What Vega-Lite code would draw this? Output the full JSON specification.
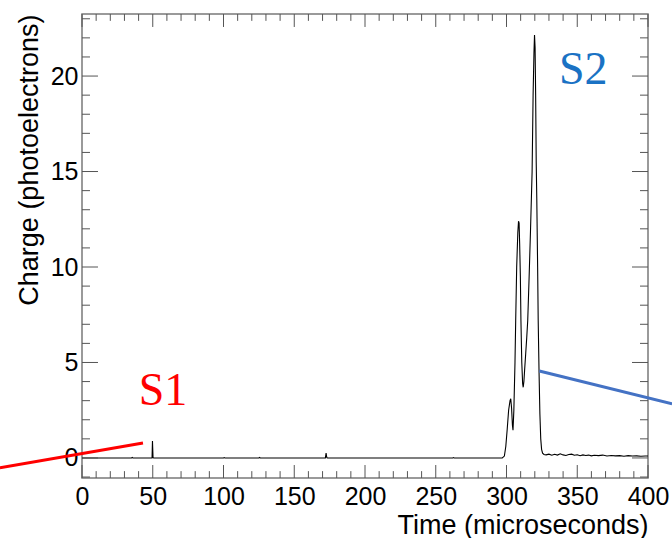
{
  "$schema": "https://vega.github.io/schema/vega-lite/v6.json",
  "width": 566,
  "height": 464,
  "autosize": {"type": "none"},
  "padding": {"left": 82, "top": 14, "right": 24, "bottom": 60},
  "background": "white",
  "config": {
    "view": {"stroke": "#7a7a7a", "strokeWidth": 1.5}
  },
  "datasets": {
    "wave": [
      {"t": 0, "q": 0}, {"t": 20, "q": 0}, {"t": 35, "q": 0}, {"t": 35.5, "q": 0.03}, {"t": 36, "q": 0},
      {"t": 49.5, "q": 0}, {"t": 49.8, "q": 0.89}, {"t": 50.2, "q": 0.02}, {"t": 50.6, "q": 0},
      {"t": 100, "q": 0}, {"t": 100.5, "q": 0.02}, {"t": 101, "q": 0},
      {"t": 125, "q": 0}, {"t": 125.5, "q": 0.03}, {"t": 126, "q": 0},
      {"t": 172, "q": 0}, {"t": 172.5, "q": 0.26}, {"t": 173, "q": 0.02}, {"t": 173.5, "q": 0},
      {"t": 262, "q": 0}, {"t": 262.5, "q": 0.02}, {"t": 263, "q": 0},
      {"t": 297, "q": 0}, {"t": 298.5, "q": 0.1}, {"t": 299.5, "q": 0.6}, {"t": 300.5, "q": 1.5},
      {"t": 301.5, "q": 2.5}, {"t": 302.5, "q": 3.0}, {"t": 303, "q": 3.1}, {"t": 303.6, "q": 2.6},
      {"t": 304.2, "q": 1.7}, {"t": 304.6, "q": 1.45}, {"t": 305.2, "q": 2.5}, {"t": 306, "q": 5.0},
      {"t": 306.5, "q": 7.2}, {"t": 307.2, "q": 10}, {"t": 308, "q": 11.8}, {"t": 308.5, "q": 12.4},
      {"t": 308.9, "q": 12.3}, {"t": 309.3, "q": 11.2}, {"t": 309.8, "q": 9.5}, {"t": 310.2, "q": 7.2},
      {"t": 310.8, "q": 5.0}, {"t": 311.4, "q": 3.9}, {"t": 311.8, "q": 3.7}, {"t": 312.3, "q": 4.0},
      {"t": 312.8, "q": 4.6}, {"t": 313.6, "q": 5.5}, {"t": 314.3, "q": 6.3}, {"t": 315, "q": 7.2},
      {"t": 316, "q": 9.5}, {"t": 317, "q": 12}, {"t": 318.1, "q": 15}, {"t": 318.8, "q": 19},
      {"t": 319.4, "q": 21.2}, {"t": 319.8, "q": 22.15}, {"t": 320.2, "q": 21.5}, {"t": 320.6, "q": 19},
      {"t": 321, "q": 15.5}, {"t": 321.4, "q": 13.6}, {"t": 322, "q": 10}, {"t": 322.4, "q": 7.2},
      {"t": 323, "q": 4.5}, {"t": 323.6, "q": 2.3}, {"t": 324.2, "q": 1.0}, {"t": 324.8, "q": 0.45},
      {"t": 325.5, "q": 0.25}, {"t": 326.5, "q": 0.18}, {"t": 328, "q": 0.16}, {"t": 330, "q": 0.2},
      {"t": 332, "q": 0.14}, {"t": 334, "q": 0.19}, {"t": 336, "q": 0.15}, {"t": 338, "q": 0.22},
      {"t": 340, "q": 0.16}, {"t": 342, "q": 0.13}, {"t": 344, "q": 0.18}, {"t": 346, "q": 0.2},
      {"t": 348, "q": 0.14}, {"t": 350, "q": 0.17}, {"t": 352, "q": 0.12}, {"t": 354, "q": 0.16},
      {"t": 356, "q": 0.13}, {"t": 358, "q": 0.15}, {"t": 360, "q": 0.11}, {"t": 362, "q": 0.14},
      {"t": 365, "q": 0.12}, {"t": 368, "q": 0.15}, {"t": 371, "q": 0.1}, {"t": 374, "q": 0.13},
      {"t": 377, "q": 0.11}, {"t": 380, "q": 0.12}, {"t": 383, "q": 0.09}, {"t": 386, "q": 0.12},
      {"t": 389, "q": 0.1}, {"t": 392, "q": 0.11}, {"t": 395, "q": 0.09}, {"t": 398, "q": 0.1},
      {"t": 400, "q": 0.1}
    ],
    "red": [{"t": -58, "q": -0.52}, {"t": 43.1, "q": 0.785}],
    "blue": [{"t": 323.2, "q": 4.55}, {"t": 417, "q": 2.83}],
    "s1": [{"t": 57.3, "q": 2.77, "label": "S1"}],
    "s2": [{"t": 354.2, "q": 19.6, "label": "S2"}],
    "xmaj": [{"t": 0}, {"t": 50}, {"t": 100}, {"t": 150}, {"t": 200}, {"t": 250}, {"t": 300}, {"t": 350}, {"t": 400}],
    "xmin": [{"t": 10}, {"t": 20}, {"t": 30}, {"t": 40}, {"t": 60}, {"t": 70}, {"t": 80}, {"t": 90},
      {"t": 110}, {"t": 120}, {"t": 130}, {"t": 140}, {"t": 160}, {"t": 170}, {"t": 180}, {"t": 190},
      {"t": 210}, {"t": 220}, {"t": 230}, {"t": 240}, {"t": 260}, {"t": 270}, {"t": 280}, {"t": 290},
      {"t": 310}, {"t": 320}, {"t": 330}, {"t": 340}, {"t": 360}, {"t": 370}, {"t": 380}, {"t": 390}],
    "ymaj": [{"q": 0}, {"q": 5}, {"q": 10}, {"q": 15}, {"q": 20}],
    "ymin": [{"q": -1}, {"q": 1}, {"q": 2}, {"q": 3}, {"q": 4}, {"q": 6}, {"q": 7}, {"q": 8}, {"q": 9},
      {"q": 11}, {"q": 12}, {"q": 13}, {"q": 14}, {"q": 16}, {"q": 17}, {"q": 18}, {"q": 19},
      {"q": 21}, {"q": 22}, {"q": 23}]
  },
  "resolve": {"axis": {"x": "independent", "y": "independent"}},
  "layer": [
    {
      "data": {"name": "wave"},
      "mark": {"type": "line", "color": "black", "strokeWidth": 1.1},
      "encoding": {
        "x": {"field": "t", "type": "quantitative",
          "scale": {"domain": [0, 400], "nice": false, "zero": false},
          "axis": {"orient": "bottom", "values": [0, 50, 100, 150, 200, 250, 300, 350, 400],
            "grid": false, "domain": false, "ticks": false,
            "labelFont": "Liberation Sans", "labelFontSize": 25, "labelColor": "black",
            "labelOverlap": false, "labelFlush": false, "labelAngle": 0, "labelPadding": 6,
            "title": "Time (microseconds)", "titleFont": "Liberation Sans", "titleFontSize": 27,
            "titleFontWeight": "normal", "titleColor": "black",
            "titleAnchor": "end", "titlePadding": 3}},
        "y": {"field": "q", "type": "quantitative",
          "scale": {"domain": [-1.05, 23.25], "nice": false, "zero": false},
          "axis": {"orient": "left", "values": [0, 5, 10, 15, 20],
            "grid": false, "domain": false, "ticks": false,
            "labelFont": "Liberation Sans", "labelFontSize": 25, "labelColor": "black",
            "labelOverlap": false, "labelFlush": false, "labelPadding": 4,
            "title": "Charge (photoelectrons)", "titleFont": "Liberation Sans", "titleFontSize": 27,
            "titleFontWeight": "normal", "titleColor": "black",
            "titleAnchor": "end", "titlePadding": 7}}
      }
    },
    {
      "data": {"name": "xmaj"},
      "mark": {"type": "rule", "color": "#555555", "strokeWidth": 1},
      "encoding": {
        "x": {"field": "t", "type": "quantitative", "axis": null},
        "y": {"datum": -1.05, "type": "quantitative", "axis": null},
        "y2": {"datum": -0.37}
      }
    },
    {
      "data": {"name": "xmaj"},
      "mark": {"type": "rule", "color": "#555555", "strokeWidth": 1},
      "encoding": {
        "x": {"field": "t", "type": "quantitative", "axis": null},
        "y": {"datum": 23.25, "type": "quantitative", "axis": null},
        "y2": {"datum": 22.57}
      }
    },
    {
      "data": {"name": "xmin"},
      "mark": {"type": "rule", "color": "#555555", "strokeWidth": 1},
      "encoding": {
        "x": {"field": "t", "type": "quantitative", "axis": null},
        "y": {"datum": -1.05, "type": "quantitative", "axis": null},
        "y2": {"datum": -0.69}
      }
    },
    {
      "data": {"name": "xmin"},
      "mark": {"type": "rule", "color": "#555555", "strokeWidth": 1},
      "encoding": {
        "x": {"field": "t", "type": "quantitative", "axis": null},
        "y": {"datum": 23.25, "type": "quantitative", "axis": null},
        "y2": {"datum": 22.89}
      }
    },
    {
      "data": {"name": "ymaj"},
      "mark": {"type": "rule", "color": "#555555", "strokeWidth": 1},
      "encoding": {
        "y": {"field": "q", "type": "quantitative", "axis": null},
        "x": {"datum": 0, "type": "quantitative", "axis": null},
        "x2": {"datum": 11.3}
      }
    },
    {
      "data": {"name": "ymaj"},
      "mark": {"type": "rule", "color": "#555555", "strokeWidth": 1},
      "encoding": {
        "y": {"field": "q", "type": "quantitative", "axis": null},
        "x": {"datum": 400, "type": "quantitative", "axis": null},
        "x2": {"datum": 388.7}
      }
    },
    {
      "data": {"name": "ymin"},
      "mark": {"type": "rule", "color": "#555555", "strokeWidth": 1},
      "encoding": {
        "y": {"field": "q", "type": "quantitative", "axis": null},
        "x": {"datum": 0, "type": "quantitative", "axis": null},
        "x2": {"datum": 5.65}
      }
    },
    {
      "data": {"name": "ymin"},
      "mark": {"type": "rule", "color": "#555555", "strokeWidth": 1},
      "encoding": {
        "y": {"field": "q", "type": "quantitative", "axis": null},
        "x": {"datum": 400, "type": "quantitative", "axis": null},
        "x2": {"datum": 394.35}
      }
    },
    {
      "data": {"name": "red"},
      "mark": {"type": "line", "color": "#ff0000", "strokeWidth": 3},
      "encoding": {
        "x": {"field": "t", "type": "quantitative", "axis": null},
        "y": {"field": "q", "type": "quantitative", "axis": null}
      }
    },
    {
      "data": {"name": "blue"},
      "mark": {"type": "line", "color": "#4472c4", "strokeWidth": 3},
      "encoding": {
        "x": {"field": "t", "type": "quantitative", "axis": null},
        "y": {"field": "q", "type": "quantitative", "axis": null}
      }
    },
    {
      "data": {"name": "s1"},
      "mark": {"type": "text", "color": "#ff0000", "font": "Liberation Serif", "fontSize": 46, "align": "center", "baseline": "alphabetic"},
      "encoding": {
        "x": {"field": "t", "type": "quantitative", "axis": null},
        "y": {"field": "q", "type": "quantitative", "axis": null},
        "text": {"field": "label"}
      }
    },
    {
      "data": {"name": "s2"},
      "mark": {"type": "text", "color": "#1a72c4", "font": "Liberation Serif", "fontSize": 46, "align": "center", "baseline": "alphabetic"},
      "encoding": {
        "x": {"field": "t", "type": "quantitative", "axis": null},
        "y": {"field": "q", "type": "quantitative", "axis": null},
        "text": {"field": "label"}
      }
    }
  ]
}
